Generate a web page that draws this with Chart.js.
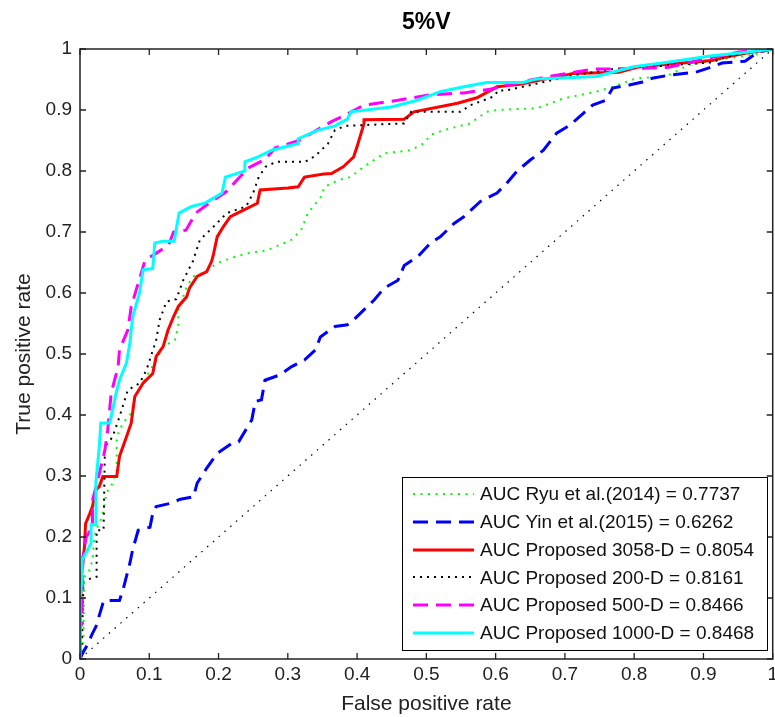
<!DOCTYPE html>
<html><head><meta charset="utf-8">
<script src="https://cdn.jsdelivr.net/npm/chart.js@4"></script>
<style>html,body{margin:0;padding:0;overflow:hidden;background:#fff}#wrap{width:782px;height:717px;position:relative}</style>
</head><body><div id="wrap"><canvas id="c" width="782" height="717"></canvas></div>
<script>
const chartTitle = "5%V";
const xLabel = "False positive rate";
const yLabel = "True positive rate";
const tickValues = [0,0.1,0.2,0.3,0.4,0.5,0.6,0.7,0.8,0.9,1];
const legendLabels = [
  "AUC Ryu et al.(2014) = 0.7737",
  "AUC Yin et al.(2015) = 0.6262",
  "AUC Proposed 3058-D = 0.8054",
  "AUC Proposed 200-D = 0.8161",
  "AUC Proposed 500-D = 0.8466",
  "AUC Proposed 1000-D = 0.8468"
];
const ryu = [[0,0],[0.005,0.03],[0.006,0.135],[0.012,0.14],[0.018,0.162],[0.02,0.19],[0.023,0.211],[0.03,0.228],[0.035,0.25],[0.038,0.272],[0.047,0.288],[0.053,0.31],[0.053,0.364],[0.062,0.387],[0.074,0.403],[0.082,0.436],[0.096,0.463],[0.11,0.49],[0.12,0.512],[0.137,0.523],[0.142,0.545],[0.142,0.572],[0.154,0.61],[0.163,0.627],[0.178,0.633],[0.198,0.649],[0.22,0.658],[0.241,0.665],[0.27,0.67],[0.305,0.687],[0.319,0.703],[0.329,0.731],[0.348,0.758],[0.353,0.774],[0.373,0.785],[0.39,0.79],[0.41,0.807],[0.439,0.829],[0.477,0.834],[0.496,0.845],[0.506,0.859],[0.525,0.867],[0.563,0.878],[0.587,0.897],[0.602,0.9],[0.66,0.903],[0.698,0.919],[0.745,0.93],[0.764,0.936],[0.803,0.952],[0.846,0.955],[0.879,0.974],[0.936,0.985],[0.974,0.991],[1,1]];
const yin = [[0,0],[0.004,0.01],[0.011,0.024],[0.018,0.042],[0.023,0.053],[0.033,0.091],[0.035,0.096],[0.057,0.096],[0.062,0.113],[0.067,0.135],[0.072,0.157],[0.076,0.179],[0.084,0.211],[0.101,0.216],[0.106,0.244],[0.11,0.25],[0.13,0.255],[0.145,0.262],[0.164,0.266],[0.169,0.288],[0.183,0.313],[0.198,0.337],[0.22,0.354],[0.229,0.356],[0.248,0.392],[0.253,0.422],[0.262,0.425],[0.267,0.457],[0.289,0.466],[0.305,0.479],[0.324,0.49],[0.34,0.507],[0.347,0.528],[0.368,0.545],[0.386,0.548],[0.395,0.556],[0.425,0.589],[0.439,0.608],[0.459,0.621],[0.468,0.645],[0.488,0.66],[0.506,0.682],[0.52,0.692],[0.54,0.714],[0.554,0.725],[0.578,0.75],[0.602,0.764],[0.616,0.78],[0.631,0.8],[0.65,0.818],[0.669,0.834],[0.688,0.862],[0.707,0.875],[0.727,0.895],[0.74,0.908],[0.759,0.916],[0.769,0.936],[0.793,0.941],[0.812,0.946],[0.826,0.952],[0.85,0.957],[0.889,0.962],[0.908,0.969],[0.927,0.977],[0.96,0.98],[0.979,0.995],[1,1]];
const prop3058 = [[0,0],[0,0.048],[0.002,0.135],[0.0065,0.184],[0.008,0.222],[0.014,0.238],[0.018,0.25],[0.023,0.277],[0.028,0.283],[0.033,0.299],[0.053,0.299],[0.057,0.332],[0.067,0.364],[0.074,0.387],[0.079,0.43],[0.091,0.452],[0.105,0.468],[0.11,0.496],[0.12,0.512],[0.127,0.539],[0.135,0.561],[0.142,0.578],[0.154,0.594],[0.158,0.608],[0.169,0.627],[0.183,0.635],[0.19,0.652],[0.193,0.665],[0.198,0.692],[0.207,0.709],[0.217,0.725],[0.236,0.736],[0.256,0.747],[0.26,0.769],[0.3,0.772],[0.315,0.774],[0.324,0.79],[0.352,0.795],[0.363,0.796],[0.38,0.807],[0.395,0.823],[0.4,0.84],[0.41,0.878],[0.41,0.884],[0.468,0.885],[0.482,0.897],[0.545,0.911],[0.573,0.92],[0.602,0.938],[0.635,0.942],[0.712,0.96],[0.778,0.962],[0.807,0.971],[0.912,0.981],[0.926,0.985],[0.96,0.993],[1,1]];
const prop200 = [[0,0],[0.003,0.03],[0.005,0.128],[0.024,0.135],[0.024,0.211],[0.034,0.211],[0.036,0.348],[0.047,0.364],[0.057,0.397],[0.069,0.441],[0.086,0.452],[0.096,0.474],[0.11,0.523],[0.115,0.556],[0.125,0.586],[0.139,0.59],[0.149,0.621],[0.163,0.652],[0.173,0.687],[0.193,0.709],[0.212,0.731],[0.24,0.742],[0.25,0.764],[0.258,0.79],[0.268,0.807],[0.283,0.815],[0.325,0.815],[0.34,0.825],[0.358,0.845],[0.368,0.867],[0.383,0.874],[0.468,0.878],[0.478,0.897],[0.549,0.897],[0.564,0.908],[0.597,0.922],[0.604,0.932],[0.615,0.932],[0.639,0.938],[0.67,0.946],[0.713,0.957],[0.769,0.967],[0.912,0.978],[0.936,0.988],[0.97,0.995],[1,1]];
const prop500 = [[0,0],[0,0.05],[0.003,0.059],[0.004,0.167],[0.009,0.2],[0.018,0.216],[0.018,0.26],[0.025,0.29],[0.036,0.343],[0.04,0.375],[0.045,0.436],[0.055,0.479],[0.057,0.507],[0.069,0.539],[0.074,0.578],[0.094,0.654],[0.11,0.665],[0.128,0.679],[0.135,0.7],[0.153,0.703],[0.167,0.731],[0.186,0.747],[0.21,0.765],[0.224,0.782],[0.243,0.805],[0.267,0.819],[0.282,0.838],[0.316,0.85],[0.363,0.881],[0.378,0.889],[0.41,0.908],[0.459,0.916],[0.506,0.925],[0.554,0.928],[0.592,0.934],[0.649,0.949],[0.688,0.957],[0.74,0.967],[0.803,0.968],[0.85,0.97],[0.907,0.985],[0.951,0.995],[1,1]];
const prop1000 = [[0,0],[0,0.1],[0.003,0.13],[0.003,0.162],[0.016,0.19],[0.016,0.22],[0.023,0.22],[0.023,0.29],[0.028,0.35],[0.03,0.387],[0.043,0.387],[0.053,0.44],[0.057,0.457],[0.067,0.485],[0.072,0.518],[0.076,0.561],[0.086,0.6],[0.091,0.638],[0.105,0.64],[0.108,0.682],[0.12,0.685],[0.136,0.685],[0.143,0.731],[0.161,0.742],[0.18,0.747],[0.205,0.764],[0.21,0.79],[0.238,0.8],[0.238,0.815],[0.257,0.823],[0.277,0.834],[0.315,0.845],[0.315,0.853],[0.344,0.867],[0.368,0.874],[0.386,0.885],[0.391,0.897],[0.449,0.905],[0.487,0.916],[0.52,0.93],[0.554,0.938],[0.587,0.945],[0.639,0.945],[0.66,0.951],[0.745,0.955],[0.799,0.971],[0.846,0.978],[0.912,0.989],[0.956,0.994],[1,1]];
const chanceLine = [[0,0],[1,1]];

const FONT = "'Liberation Sans', Arial, Helvetica, sans-serif";
const styles = [
  {color:'#00ff00', width:2, dash:[2,5.5]},
  {color:'#0000ff', width:3, dash:[15,8]},
  {color:'#ff0000', width:3, dash:[]},
  {color:'#000000', width:2, dash:[2,5]},
  {color:'#ff00ff', width:3, dash:[15,8]},
  {color:'#00ffff', width:3, dash:[]}
];
const seriesData = [ryu, yin, prop3058, prop200, prop500, prop1000];
const toPts = a => a.map(p => ({x:p[0], y:p[1]}));
const datasets = seriesData.map((d,i) => ({
  label: legendLabels[i], data: toPts(d), showLine:true, pointRadius:0,
  borderColor: styles[i].color, borderWidth: styles[i].width, borderDash: styles[i].dash,
  fill:false, tension:0, order: 6 - i
}));
datasets.push({label:'chance', data: toPts(chanceLine), showLine:true, pointRadius:0,
  borderColor:'#000', borderWidth:1.2, borderDash:[1.5,6.2], fill:false, order:0});

const deco = {
  id:'deco',
  afterDraw(chart){
    const ctx = chart.ctx, a = chart.chartArea, xs = chart.scales.x, ys = chart.scales.y;
    ctx.save();
    // axes box
    ctx.strokeStyle = '#222'; ctx.lineWidth = 1.5; ctx.setLineDash([]);
    ctx.strokeRect(a.left, a.top, a.right - a.left, a.bottom - a.top);
    // inward ticks
    ctx.lineWidth = 1.3;
    ctx.beginPath();
    tickValues.forEach(v => {
      const px = xs.getPixelForValue(v);
      ctx.moveTo(px, a.bottom); ctx.lineTo(px, a.bottom - 6);
      ctx.moveTo(px, a.top); ctx.lineTo(px, a.top + 6);
      const py = ys.getPixelForValue(v);
      ctx.moveTo(a.left, py); ctx.lineTo(a.left + 6, py);
      ctx.moveTo(a.right, py); ctx.lineTo(a.right - 6, py);
    });
    ctx.stroke();
    // title & axis labels
    ctx.fillStyle = '#000';
    ctx.textAlign = 'center'; ctx.textBaseline = 'middle';
    ctx.font = 'bold 23px ' + FONT;
    ctx.fillText(chartTitle, (a.left + a.right)/2, 23);
    ctx.font = '21px ' + FONT;
    ctx.fillStyle = '#222';
    ctx.fillText(xLabel, (a.left + a.right)/2, 704);
    ctx.save();
    ctx.translate(24, (a.top + a.bottom)/2);
    ctx.rotate(-Math.PI/2);
    ctx.fillText(yLabel, 0, 0);
    ctx.restore();
    // legend
    const lx = 402, ly = 477, lw = 365, lh = 173;
    ctx.fillStyle = '#fff';
    ctx.fillRect(lx, ly, lw, lh);
    ctx.strokeStyle = '#000'; ctx.lineWidth = 1;
    ctx.strokeRect(lx + 0.5, ly + 0.5, lw, lh);
    ctx.font = '19px ' + FONT;
    ctx.textAlign = 'left';
    legendLabels.forEach((t, i) => {
      const cy = 494 + i * 27.8;
      const s = styles[i];
      ctx.strokeStyle = s.color; ctx.lineWidth = s.width; ctx.setLineDash(s.dash);
      ctx.beginPath(); ctx.moveTo(413, Math.round(cy)); ctx.lineTo(474, Math.round(cy)); ctx.stroke();
      ctx.setLineDash([]);
      ctx.fillStyle = '#111';
      ctx.fillText(t, 480, cy + 1);
    });
    ctx.restore();
  }
};

new Chart(document.getElementById('c'), {
  type:'scatter',
  data:{datasets},
  options:{
    responsive:false, animation:false, devicePixelRatio:1,
    layout:{padding:{top:49, right:5, left:0, bottom:0}},
    plugins:{legend:{display:false}, title:{display:false}, tooltip:{enabled:false}},
    scales:{
      x:{type:'linear', min:0, max:1,
        afterBuildTicks: s => { s.ticks = tickValues.map(v => ({value:v})); },
        afterFit: s => { s.height = 58; },
        grid:{display:false, drawTicks:false}, border:{display:false},
        ticks:{padding:4, color:'#222', font:{family:FONT, size:19}, maxRotation:0,
          callback: v => String(Math.round(v*10)/10)}},
      y:{type:'linear', min:0, max:1,
        afterBuildTicks: s => { s.ticks = tickValues.map(v => ({value:v})); },
        afterFit: s => { s.width = 80; },
        grid:{display:false, drawTicks:false}, border:{display:false},
        ticks:{padding:8, color:'#222', font:{family:FONT, size:19},
          callback: v => String(Math.round(v*10)/10)}}
    }
  },
  plugins:[deco]
});
</script></body></html>
